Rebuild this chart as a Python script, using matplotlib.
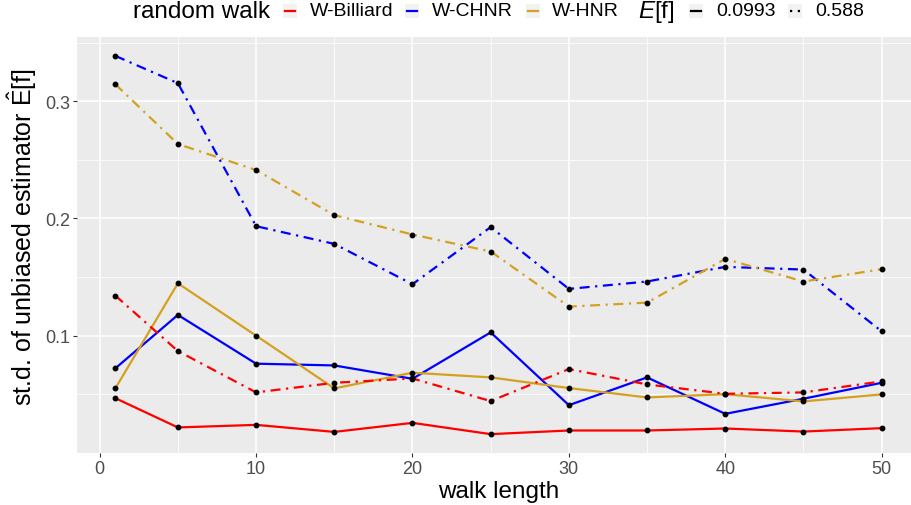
import numpy as np
import matplotlib.pyplot as plt
from matplotlib.lines import Line2D
from matplotlib.patches import Rectangle

plt.rcParams['font.family'] = ['Liberation Sans', 'DejaVu Sans']
plt.rcParams['mathtext.fontset'] = 'custom'
plt.rcParams['mathtext.rm'] = 'Liberation Sans'
plt.rcParams['mathtext.it'] = 'Liberation Sans:italic'

# walk lengths
walk_length = [1, 5, 10, 15, 20, 25, 30, 35, 40, 45, 50]

# std of estimator, E[f] = 0.0993 (solid)
billiard_small = [0.0467, 0.0217, 0.0239, 0.0179, 0.0256, 0.0160, 0.0191, 0.0191, 0.0208, 0.0182, 0.0211]
chnr_small = [0.0721, 0.1177, 0.0761, 0.0746, 0.0632, 0.1028, 0.0407, 0.0644, 0.0333, 0.0462, 0.0598]
hnr_small = [0.0550, 0.1447, 0.1000, 0.0550, 0.0684, 0.0644, 0.0553, 0.0473, 0.0501, 0.0439, 0.0499]

# E[f] = 0.588 (dash-dot)
billiard_big = [0.1342, 0.0869, 0.0516, 0.0598, 0.0635, 0.0442, 0.0715, 0.0584, 0.0504, 0.0516, 0.0610]
chnr_big = [0.3387, 0.3154, 0.1934, 0.1783, 0.1439, 0.1926, 0.1399, 0.1462, 0.1587, 0.1564, 0.1037]
hnr_big = [0.3145, 0.2635, 0.2413, 0.2028, 0.1863, 0.1718, 0.1248, 0.1282, 0.1655, 0.1462, 0.1567]

walks = ['W-Billiard', 'W-CHNR', 'W-HNR']
colors = ['#FF0000', '#0000FF', '#D4A020']
ef_labels = ['0.0993', '0.588']
dashdot = (4.5, 2.5, 1, 2.5)

fig = plt.figure(figsize=(9.11, 5.06), dpi=100)
W, H = 911, 506
ax = fig.add_axes([77 / W, 1 - 454 / H, (920 - 77) / W, (454 - 38) / H])
ax.set_facecolor('#EBEBEB')
for s in ax.spines.values():
    s.set_visible(False)

small = [billiard_small, chnr_small, hnr_small]
big = [billiard_big, chnr_big, hnr_big]
for vals, c in zip(small, colors):
    ax.plot(walk_length, vals, color=c, lw=1.6, zorder=3)
for vals, c in zip(big, colors):
    ax.plot(walk_length, vals, color=c, lw=1.6, dashes=dashdot, zorder=3)
for vals in small + big:
    ax.plot(walk_length, vals, 'o', color='black', ms=3.2, zorder=4)

ax.set_xlim(-1.45, 52.45)
ax.set_ylim(-0.0001, 0.3548)
ax.set_xticks([0, 10, 20, 30, 40, 50])
ax.set_xticks([5, 15, 25, 35, 45], minor=True)
ax.set_yticks([0.1, 0.2, 0.3])
ax.set_yticks([0.05, 0.15, 0.25, 0.35], minor=True)
ax.set_yticklabels(['0.1', '0.2', '0.3'])
ax.grid(which='major', color='white', lw=1.1)
ax.grid(which='minor', color='white', lw=0.55)
ax.set_axisbelow(True)
ax.tick_params(which='major', length=3, width=0.8, color='#333333', labelsize=13,
               labelcolor='#4D4D4D', pad=2)
ax.tick_params(which='minor', length=0)

ax.set_xlabel('walk length', fontsize=17.5, labelpad=2)
ax.set_ylabel(r'st.d. of unbiased estimator $\hat{\mathrm{E}}$[f]', fontsize=18)
ax.yaxis.set_label_coords(-38 / (920 - 77), 0.5 + 9 / (454 - 38))

# legend along the top
ty = 1 - 12 / H
fig.text(133 / W, ty, 'random walk', fontsize=17.5, va='center', ha='left')
key_x = [283, 405, 526]
lab_x = [310, 432, 552]
for kx, lx, c, lab in zip(key_x, lab_x, colors, walks):
    fig.add_artist(Rectangle((kx / W, 1 - 19 / H), 14 / W, 14 / H, transform=fig.transFigure,
                             facecolor='#F2F2F2', edgecolor='none'))
    fig.add_artist(Line2D([(kx + 2) / W, (kx + 12) / W], [ty, ty], transform=fig.transFigure,
                          color=c, lw=1.6))
    fig.text(lx / W, ty, lab, fontsize=14, va='center', ha='left')

fig.text(638 / W, ty, r'$E$[f]', fontsize=17.5, va='center', ha='left')
key_x2 = [689, 788]
lab_x2 = [716, 815]
styles = [None, dashdot]
for kx, lx, st, lab in zip(key_x2, lab_x2, styles, ef_labels):
    fig.add_artist(Rectangle((kx / W, 1 - 19 / H), 14 / W, 14 / H, transform=fig.transFigure,
                             facecolor='#F2F2F2', edgecolor='none'))
    ln = Line2D([(kx + 2) / W, (kx + 12) / W], [ty, ty], transform=fig.transFigure,
                color='black', lw=1.6)
    if st is not None:
        ln.set_dashes((1, 2.5, 1, 2.5))
    fig.add_artist(ln)
    fig.text(lx / W, ty, lab, fontsize=14, va='center', ha='left')

fig.savefig('out.png', dpi=100)
